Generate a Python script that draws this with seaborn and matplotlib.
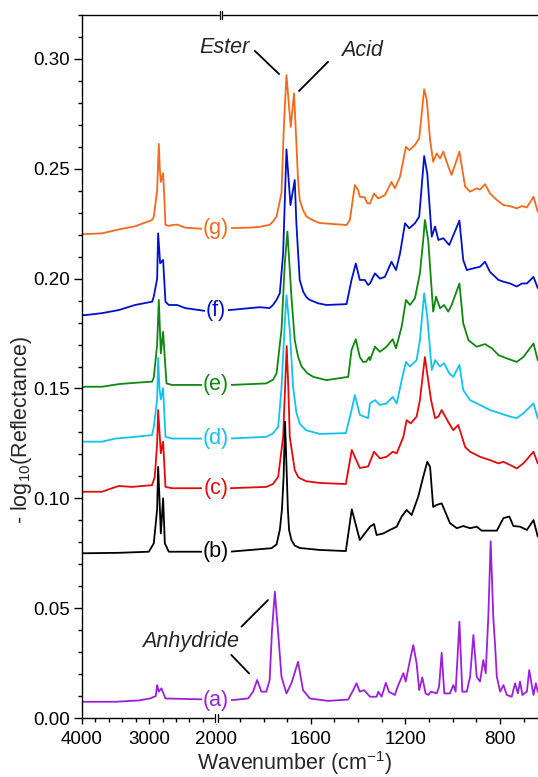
import numpy as np
import pandas as pd
import seaborn as sns
import matplotlib.pyplot as plt
from matplotlib.ticker import FixedLocator, MultipleLocator, FormatStrFormatter
from matplotlib.transforms import blended_transform_factory, ScaledTranslation

sns.set_style('ticks')
plt.rcParams['font.family'] = ['Liberation Sans', 'DejaVu Sans']
plt.rcParams['mathtext.fontset'] = 'custom'
plt.rcParams['mathtext.rm'] = 'Liberation Sans'
plt.rcParams['mathtext.it'] = 'Liberation Sans:italic'

# spectra: wavenumber (cm-1) / -log10(R)
g_wn = [4000, 3950, 3700, 3450, 3200, 2955, 2930, 2880, 2855, 2840, 2825, 2791, 2770, 2756, 2706, 2656,
        2582, 2462, 2164, 2000, 1943, 1860, 1816, 1774, 1760, 1745, 1724, 1714, 1703, 1685, 1671, 1661,
        1654, 1647, 1632, 1618, 1590, 1562, 1449, 1435, 1414, 1400, 1393, 1372, 1362, 1350, 1333, 1315,
        1287, 1259, 1245, 1223, 1198, 1184, 1160, 1142, 1121, 1110, 1096, 1083, 1068, 1054, 1040, 1019,
        1005, 972, 948, 927, 899, 885, 864, 843, 814, 786, 758, 730, 708, 687, 659, 641]
g_abs = [0.2203, 0.2203, 0.2206, 0.2224, 0.2239, 0.2267, 0.2282, 0.240, 0.2613, 0.250, 0.244, 0.248, 0.235,
         0.2244, 0.2240, 0.2244, 0.2246, 0.2232, 0.2226, 0.2228, 0.2230, 0.2232, 0.2236, 0.2245, 0.2260,
         0.2282, 0.239, 0.269, 0.2927, 0.269, 0.2843, 0.2617, 0.2450, 0.2358, 0.2310, 0.2282, 0.2265,
         0.2253, 0.2244, 0.2267, 0.2426, 0.2403, 0.2373, 0.2370, 0.2344, 0.2342, 0.2388, 0.2365, 0.2380,
         0.2440, 0.2411, 0.2464, 0.2600, 0.2585, 0.2608, 0.2639, 0.2862, 0.2813, 0.2631, 0.2532, 0.2570,
         0.2547, 0.2578, 0.2510, 0.2472, 0.2578, 0.2419, 0.2396, 0.2411, 0.2405, 0.2430, 0.2388, 0.2358,
         0.2335, 0.2330, 0.2320, 0.2330, 0.2324, 0.2373, 0.2305]

f_wn = [4000, 3950, 3700, 3450, 3210, 2955, 2930, 2880, 2865, 2835, 2791, 2756, 2706, 2582, 2462, 2164,
        2000, 1943, 1816, 1774, 1760, 1745, 1731, 1717, 1703, 1686, 1668, 1661, 1654, 1647, 1632, 1618,
        1604, 1570, 1534, 1449, 1428, 1410, 1393, 1372, 1358, 1350, 1329, 1308, 1287, 1259, 1240, 1223,
        1202, 1184, 1160, 1142, 1121, 1108, 1089, 1075, 1061, 1040, 1015, 972, 956, 941, 913, 885, 864,
        843, 807, 786, 758, 730, 708, 687, 659, 641]
f_abs = [0.1834, 0.1834, 0.1843, 0.1857, 0.1880, 0.1895, 0.1918, 0.2000, 0.2206, 0.2070, 0.2085, 0.1895,
         0.1880, 0.1880, 0.1866, 0.1853, 0.1855, 0.1857, 0.1870, 0.1866, 0.1880, 0.1903, 0.1934, 0.2116,
         0.2588, 0.2335, 0.2449, 0.2250, 0.2120, 0.1994, 0.1940, 0.1915, 0.1903, 0.1888, 0.1880, 0.1884,
         0.1994, 0.2069, 0.1994, 0.1994, 0.1971, 0.1978, 0.2024, 0.2000, 0.2008, 0.2077, 0.2039, 0.2115,
         0.2252, 0.2229, 0.2252, 0.2282, 0.2558, 0.2479, 0.2191, 0.2237, 0.2176, 0.2184, 0.2153, 0.2264,
         0.2085, 0.2039, 0.2047, 0.2054, 0.2077, 0.2031, 0.1994, 0.1986, 0.1978, 0.1964, 0.1978, 0.1978,
         0.2008, 0.1957]

e_wn = [4000, 3950, 3700, 3450, 3204, 2955, 2930, 2880, 2855, 2825, 2791, 2756, 2740, 2656, 2208, 2000,
        1943, 1788, 1760, 1745, 1724, 1710, 1699, 1682, 1668, 1654, 1639, 1615, 1590, 1534, 1442, 1428,
        1410, 1393, 1379, 1367, 1353, 1350, 1329, 1308, 1280, 1254, 1240, 1216, 1198, 1181, 1160, 1139,
        1125, 1118, 1104, 1083, 1071, 1054, 1037, 1019, 1005, 972, 956, 934, 899, 864, 835, 807, 772, 730,
        702, 659, 641]
e_abs = [0.1505, 0.1508, 0.1508, 0.1520, 0.1526, 0.1531, 0.1550, 0.1700, 0.1903, 0.1660, 0.1758, 0.1593,
         0.1523, 0.1516, 0.1516, 0.1516, 0.1516, 0.1523, 0.1540, 0.1568, 0.1766, 0.2070, 0.2214, 0.1918,
         0.1720, 0.1645, 0.1600, 0.1570, 0.1553, 0.1538, 0.1553, 0.1675, 0.1724, 0.1643, 0.1621, 0.1621,
         0.1643, 0.1629, 0.1690, 0.1667, 0.1690, 0.1724, 0.1683, 0.1782, 0.1903, 0.1880, 0.1911, 0.2024,
         0.2176, 0.2267, 0.2176, 0.1850, 0.1918, 0.1865, 0.1880, 0.1850, 0.1880, 0.1978, 0.1797, 0.1720,
         0.1690, 0.1702, 0.1683, 0.1652, 0.1637, 0.1621, 0.1643, 0.1705, 0.1629]

d_wn = [4000, 3950, 3700, 3503, 3204, 2955, 2930, 2880, 2865, 2845, 2825, 2791, 2756, 2656, 2208, 2000,
        1943, 1788, 1760, 1738, 1724, 1710, 1703, 1689, 1675, 1661, 1647, 1620, 1562, 1452, 1428, 1414,
        1393, 1358, 1350, 1329, 1308, 1280, 1254, 1237, 1216, 1198, 1181, 1153, 1139, 1121, 1108, 1089,
        1075, 1054, 1037, 1015, 998, 972, 956, 927, 885, 843, 800, 758, 730, 702, 659, 641]
d_abs = [0.1258, 0.1258, 0.1258, 0.1272, 0.1280, 0.1288, 0.1325, 0.1450, 0.1640, 0.1500, 0.1450, 0.1502,
         0.1280, 0.1272, 0.1272, 0.1272, 0.1272, 0.1280, 0.1295, 0.1325, 0.1500, 0.1800, 0.1925, 0.1766,
         0.1508, 0.1390, 0.1340, 0.1310, 0.1293, 0.1297, 0.1400, 0.1470, 0.1380, 0.1365, 0.1432, 0.1447,
         0.1425, 0.1432, 0.1462, 0.1432, 0.1538, 0.1621, 0.1600, 0.1629, 0.1720, 0.1933, 0.1827, 0.1584,
         0.1629, 0.1600, 0.1615, 0.1569, 0.1553, 0.1607, 0.1493, 0.1447, 0.1425, 0.1402, 0.1387, 0.1372,
         0.1365, 0.1387, 0.1432, 0.1365]

c_wn = [4000, 3950, 3700, 3552, 3452, 3254, 2955, 2915, 2880, 2865, 2825, 2791, 2756, 2656, 2208, 2000,
        1943, 1788, 1760, 1738, 1717, 1709, 1702, 1695, 1689, 1668, 1654, 1647, 1620, 1562, 1452, 1427,
        1393, 1358, 1350, 1333, 1308, 1280, 1254, 1237, 1209, 1195, 1178, 1153, 1139, 1118, 1092, 1075,
        1061, 1047, 1019, 998, 977, 948, 927, 885, 843, 807, 786, 758, 730, 702, 659, 641]
c_abs = [0.1030, 0.1030, 0.1030, 0.1046, 0.1056, 0.1052, 0.1060, 0.1098, 0.1250, 0.1402, 0.1205, 0.1258,
         0.1052, 0.1046, 0.1046, 0.1046, 0.1046, 0.1052, 0.1065, 0.1098, 0.1280, 0.1500, 0.1693, 0.1500,
         0.1280, 0.1129, 0.1098, 0.1092, 0.1078, 0.1070, 0.1065, 0.1220, 0.1138, 0.1145, 0.1166, 0.1212,
         0.1182, 0.1189, 0.1212, 0.1205, 0.1280, 0.1356, 0.1341, 0.1372, 0.1447, 0.1643, 0.1447, 0.1365,
         0.1372, 0.1402, 0.1347, 0.1310, 0.1334, 0.1234, 0.1212, 0.1189, 0.1174, 0.1159, 0.1166, 0.1152,
         0.1136, 0.1159, 0.1212, 0.1159]

b_wn = [4000, 3950, 3452, 3004, 2930, 2880, 2865, 2845, 2825, 2791, 2765, 2706, 2208, 2000, 1943, 1766,
        1745, 1731, 1722, 1715, 1709, 1703, 1697, 1692, 1682, 1668, 1647, 1562, 1452, 1427, 1410, 1393,
        1350, 1333, 1322, 1294, 1266, 1237, 1216, 1195, 1174, 1146, 1125, 1108, 1096, 1083, 1068, 1047,
        1012, 983, 956, 927, 899, 878, 814, 786, 761, 744, 716, 687, 659, 641]
b_abs = [0.0750, 0.0750, 0.0752, 0.0757, 0.0795, 0.0950, 0.1143, 0.1000, 0.0840, 0.1000, 0.0795, 0.0757,
         0.0757, 0.0757, 0.0757, 0.0773, 0.0790, 0.0856, 0.0950, 0.1100, 0.1349, 0.1150, 0.0950, 0.0856,
         0.0810, 0.0785, 0.0774, 0.0765, 0.0760, 0.0950, 0.0880, 0.0810, 0.0871, 0.0883, 0.0833, 0.0840,
         0.0856, 0.0871, 0.0917, 0.0947, 0.0924, 0.1008, 0.1098, 0.1166, 0.1143, 0.0961, 0.0970, 0.0977,
         0.0887, 0.0864, 0.0874, 0.0864, 0.0871, 0.0853, 0.0853, 0.0910, 0.0917, 0.0874, 0.0871, 0.0856,
         0.0901, 0.0826]

a_wn = [4000, 3500, 3153, 2985, 2900, 2880, 2855, 2816, 2756, 2208, 2000, 1929, 1865, 1844, 1827, 1809,
        1788, 1774, 1764, 1752, 1738, 1724, 1703, 1682, 1654, 1633, 1604, 1527, 1442, 1421, 1407, 1393,
        1375, 1350, 1322, 1315, 1301, 1283, 1270, 1245, 1233, 1209, 1199, 1181, 1167, 1153, 1142, 1129,
        1115, 1104, 1092, 1068, 1058, 1047, 1036, 1012, 998, 988, 972, 960, 941, 927, 913, 899, 885, 871,
        861, 850, 840, 829, 821, 814, 800, 786, 772, 751, 737, 725, 716, 706, 687, 677, 669, 659, 649, 641]
a_abs = [0.0074, 0.0074, 0.0080, 0.0089, 0.0100, 0.0150, 0.0120, 0.0135, 0.0089, 0.0085, 0.0082, 0.0082,
         0.0089, 0.0120, 0.0173, 0.0120, 0.0120, 0.0173, 0.0401, 0.0575, 0.0386, 0.0188, 0.0112, 0.0158,
         0.0256, 0.0127, 0.0089, 0.0078, 0.0084, 0.0127, 0.0158, 0.0120, 0.0127, 0.0097, 0.0097, 0.0120,
         0.0097, 0.0160, 0.0120, 0.0105, 0.0143, 0.0204, 0.0166, 0.0264, 0.0332, 0.0249, 0.0127, 0.0185,
         0.0112, 0.0105, 0.0120, 0.0112, 0.0143, 0.0297, 0.0112, 0.0112, 0.0150, 0.0120, 0.0438, 0.0120,
         0.0120, 0.0188, 0.0378, 0.0188, 0.0166, 0.0264, 0.0204, 0.0460, 0.0805, 0.0460, 0.0324, 0.0188,
         0.0120, 0.0150, 0.0105, 0.0097, 0.0158, 0.0112, 0.0166, 0.0105, 0.0120, 0.0218, 0.0166, 0.0105,
         0.0158, 0.0120]

samples = ['(g)', '(f)', '(e)', '(d)', '(c)', '(b)', '(a)']
colors = ['#F26A1B', '#0011CC', '#118611', '#12C2F2', '#E20A0A', '#000000', '#9B20DB']
all_wn = [g_wn, f_wn, e_wn, d_wn, c_wn, b_wn, a_wn]
all_abs = [g_abs, f_abs, e_abs, d_abs, c_abs, b_abs, a_abs]

df = pd.concat([pd.DataFrame({'wavenumber': w, 'absorbance': a, 'sample': s})
                for s, w, a in zip(samples, all_wn, all_abs)], ignore_index=True)

# 4000-2000 part of the axis is squeezed (broken axis)
RATIO = 3.527
def fwd(w):
    w = np.asarray(w, dtype=float)
    return np.where(w >= 2000, w, 2000 - (2000 - w) * RATIO)
def inv(d):
    d = np.asarray(d, dtype=float)
    return np.where(d >= 2000, d, 2000 - (2000 - d) / RATIO)

fig = plt.figure(figsize=(5.38, 7.77), dpi=100)
ax = fig.add_axes([0.1524, 0.0759, 0.8476, 0.9048])
ax.set_xscale('function', functions=(fwd, inv))

sns.lineplot(data=df, x='wavenumber', y='absorbance', hue='sample', hue_order=samples,
             palette=colors, sort=False, estimator=None, legend=False, lw=1.3, ax=ax)

ax.set_xlim(4000, 640)
ax.set_ylim(0, 0.32)

ax.xaxis.set_major_locator(FixedLocator([4000, 3000, 2000, 1600, 1200, 800]))
ax.xaxis.set_minor_locator(FixedLocator(list(range(3800, 2000, -200)) + list(range(1900, 640, -100))))
ax.xaxis.set_major_formatter(FormatStrFormatter('%d'))
ax.yaxis.set_major_locator(MultipleLocator(0.05))
ax.yaxis.set_minor_locator(MultipleLocator(0.01))
ax.yaxis.set_major_formatter(FormatStrFormatter('%.2f'))
ax.tick_params(axis='both', which='both', direction='out', width=1, colors='k', labelsize=13.5)
ax.tick_params(axis='x', which='major', length=4.5, pad=5)
ax.tick_params(axis='x', which='minor', length=3)
ax.tick_params(axis='y', which='major', length=6, pad=2.5)
ax.tick_params(axis='y', which='minor', length=3)
ax.spines['right'].set_visible(False)
for sp in ['left', 'top', 'bottom']:
    ax.spines[sp].set_linewidth(1)
    ax.spines[sp].set_color('k')

ax.set_xlabel('Wavenumber (cm$^{-1}$)', fontsize=15.5)
ax.set_ylabel('- log$_{10}$(Reflectance)', fontsize=15.5)
ax.xaxis.set_label_coords(0.467, -0.044)
ax.yaxis.set_label_coords(-0.106, 0.41)

# sample labels sit on the lines at 2000 cm-1
for s, w, a, c in zip(samples, all_wn, all_abs, colors):
    yv = np.interp(2000, w[::-1], a[::-1])
    ax.text(2000, yv, s, color=c, fontsize=15.5, ha='center', va='center', zorder=6,
            bbox=dict(facecolor='white', edgecolor='none', pad=1))

# band annotations
ax.text(1964, 0.3054, 'Ester', fontsize=15.5, style='italic', ha='center', va='center')
ax.plot([1837, 1734], [0.3037, 0.2931], color='k', lw=1.3)
ax.text(1384, 0.3040, 'Acid', fontsize=15.5, style='italic', ha='center', va='center')
ax.plot([1527, 1650], [0.2987, 0.2854], color='k', lw=1.3)
ax.text(2380, 0.0350, 'Anhydride', fontsize=15.5, style='italic', ha='center', va='center')
ax.plot([1893, 1781], [0.0416, 0.0537], color='k', lw=1.3)
ax.plot([1936, 1861], [0.0287, 0.0203], color='k', lw=1.3)

# axis break marks
trans = blended_transform_factory(ax.transData, ax.transAxes)
for xb, yb in [(2000, 0.0), (1980, 1.0)]:
    ax.plot([xb, xb], [yb - 0.005, yb + 0.005], transform=trans, color='white', lw=2.5,
            clip_on=False, zorder=7)
    for dx in (-1.0, 1.0):
        t = trans + ScaledTranslation(dx / 72, 0, fig.dpi_scale_trans)
        ax.plot([xb, xb], [yb - 0.0062, yb + 0.0062], transform=t, color='k', lw=0.9,
                clip_on=False, zorder=8)

fig.savefig('out.png', dpi=100)
